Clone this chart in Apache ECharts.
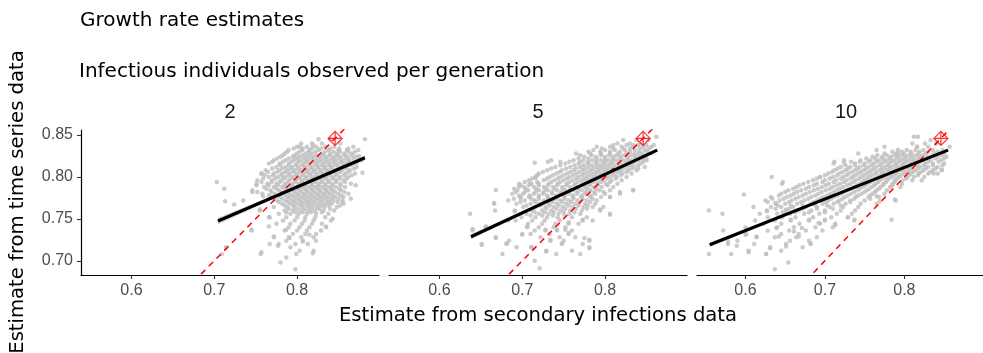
<!DOCTYPE html>
<html>
<head>
<meta charset="utf-8">
<title>Growth rate estimates</title>
<script src="https://cdn.jsdelivr.net/npm/echarts@6.0.0/dist/echarts.min.js"></script>
<style>
  html, body { margin: 0; padding: 0; background: #fff; }
  #chart { width: 983px; height: 353px; }
</style>
</head>
<body>
<div id="chart"></div>
<script>
// facet labels + ticks
const panelLabels = ["2", "5", "10"];
const xTicks = [0.6, 0.7, 0.8];
const yTicks = [0.7, 0.75, 0.8, 0.85];
const trueValue = [0.846, 0.846];
const identityLine = [[0.6, 0.6], [0.9, 0.9]];

// points, one row per y level: [y, [x, x, ...]]
const rows2 = [
  [0.845, [0.826, 0.84, 0.882]],
  [0.840, [0.805, 0.818, 0.83, 0.852]],
  [0.836, [0.80, 0.812, 0.823, 0.834, 0.845, 0.868]],
  [0.834, [0.796, 0.807, 0.818, 0.829, 0.84, 0.851, 0.862]],
  [0.832, [0.79, 0.806, 0.815, 0.826, 0.838, 0.85, 0.86, 0.874]],
  [0.830, [0.788, 0.803, 0.814, 0.822, 0.834, 0.844, 0.852, 0.862, 0.87]],
  [0.828, [0.785, 0.80, 0.81, 0.818, 0.83, 0.84, 0.848, 0.857, 0.866]],
  [0.826, [0.783, 0.797, 0.807, 0.815, 0.824, 0.832, 0.84, 0.849, 0.858, 0.867]],
  [0.824, [0.78, 0.795, 0.803, 0.812, 0.82, 0.828, 0.836, 0.845, 0.853, 0.862, 0.872]],
  [0.822, [0.776, 0.79, 0.80, 0.809, 0.817, 0.826, 0.834, 0.842, 0.85, 0.859, 0.868]],
  [0.820, [0.772, 0.786, 0.796, 0.805, 0.813, 0.822, 0.83, 0.838, 0.846, 0.855, 0.863, 0.878]],
  [0.818, [0.77, 0.783, 0.793, 0.802, 0.811, 0.819, 0.827, 0.835, 0.844, 0.853, 0.862, 0.873]],
  [0.816, [0.766, 0.779, 0.79, 0.80, 0.808, 0.816, 0.824, 0.832, 0.84, 0.849, 0.858, 0.868]],
  [0.814, [0.78, 0.79, 0.798, 0.806, 0.814, 0.822, 0.83, 0.838, 0.846, 0.855, 0.865]],
  [0.812, [0.775, 0.786, 0.794, 0.802, 0.81, 0.818, 0.826, 0.834, 0.842, 0.85, 0.86, 0.872]],
  [0.810, [0.77, 0.782, 0.792, 0.801, 0.809, 0.817, 0.825, 0.833, 0.841, 0.85, 0.859, 0.869]],
  [0.808, [0.762, 0.778, 0.788, 0.797, 0.805, 0.813, 0.821, 0.829, 0.837, 0.845, 0.854, 0.864]],
  [0.806, [0.765, 0.776, 0.786, 0.795, 0.804, 0.812, 0.82, 0.828, 0.836, 0.844, 0.852, 0.862]],
  [0.804, [0.757, 0.772, 0.782, 0.791, 0.80, 0.808, 0.816, 0.824, 0.832, 0.84, 0.848, 0.858, 0.87]],
  [0.802, [0.761, 0.771, 0.781, 0.79, 0.799, 0.807, 0.815, 0.823, 0.831, 0.839, 0.847, 0.857, 0.866]],
  [0.800, [0.766, 0.777, 0.786, 0.795, 0.803, 0.811, 0.819, 0.827, 0.835, 0.843, 0.852, 0.862]],
  [0.798, [0.759, 0.774, 0.784, 0.793, 0.802, 0.81, 0.818, 0.826, 0.834, 0.843, 0.851, 0.86]],
  [0.796, [0.752, 0.77, 0.781, 0.79, 0.798, 0.806, 0.814, 0.822, 0.83, 0.838, 0.847, 0.856]],
  [0.794, [0.757, 0.769, 0.779, 0.789, 0.798, 0.806, 0.814, 0.822, 0.83, 0.838, 0.847, 0.858]],
  [0.792, [0.751, 0.764, 0.775, 0.785, 0.794, 0.802, 0.81, 0.818, 0.826, 0.834, 0.842, 0.852, 0.865]],
  [0.790, [0.766, 0.777, 0.786, 0.794, 0.802, 0.81, 0.818, 0.826, 0.834, 0.843, 0.853]],
  [0.788, [0.76, 0.772, 0.782, 0.79, 0.798, 0.806, 0.814, 0.822, 0.83, 0.838, 0.847, 0.858]],
  [0.786, [0.763, 0.775, 0.785, 0.793, 0.801, 0.809, 0.817, 0.825, 0.833, 0.841, 0.851]],
  [0.784, [0.746, 0.768, 0.778, 0.787, 0.795, 0.803, 0.811, 0.819, 0.827, 0.835, 0.843, 0.853]],
  [0.782, [0.752, 0.769, 0.78, 0.789, 0.797, 0.805, 0.813, 0.821, 0.829, 0.837, 0.846, 0.857]],
  [0.780, [0.758, 0.773, 0.783, 0.791, 0.80, 0.808, 0.816, 0.824, 0.832, 0.84, 0.85, 0.862]],
  [0.778, [0.766, 0.777, 0.786, 0.794, 0.802, 0.81, 0.818, 0.826, 0.834, 0.843, 0.853]],
  [0.776, [0.769, 0.78, 0.789, 0.797, 0.805, 0.813, 0.821, 0.829, 0.837, 0.846, 0.856]],
  [0.774, [0.772, 0.782, 0.791, 0.80, 0.808, 0.816, 0.824, 0.832, 0.841, 0.85]],
  [0.772, [0.735, 0.776, 0.786, 0.795, 0.803, 0.811, 0.819, 0.827, 0.836, 0.844, 0.855]],
  [0.770, [0.778, 0.789, 0.797, 0.805, 0.813, 0.821, 0.83, 0.839, 0.849]],
  [0.768, [0.782, 0.792, 0.80, 0.808, 0.816, 0.825, 0.834, 0.842, 0.856]],
  [0.766, [0.785, 0.795, 0.804, 0.812, 0.82, 0.829, 0.838, 0.852]],
  [0.764, [0.772, 0.788, 0.797, 0.806, 0.815, 0.824, 0.833, 0.848]],
  [0.762, [0.79, 0.80, 0.809, 0.818, 0.827, 0.84]],
  [0.760, [0.755, 0.785, 0.795, 0.804, 0.813, 0.822, 0.832, 0.845]],
  [0.758, [0.787, 0.798, 0.807, 0.817, 0.83]],
  [0.756, [0.778, 0.792, 0.802, 0.812, 0.823, 0.838]],
  [0.752, [0.767, 0.787, 0.80, 0.81, 0.822, 0.834]],
  [0.748, [0.783, 0.797, 0.809, 0.82, 0.841]],
  [0.744, [0.775, 0.792, 0.806, 0.818, 0.83]],
  [0.740, [0.79, 0.803, 0.815, 0.835]],
  [0.736, [0.745, 0.785, 0.80, 0.812, 0.829]],
  [0.732, [0.795, 0.81, 0.823]],
  [0.728, [0.772, 0.79, 0.805, 0.82]],
  [0.724, [0.787, 0.807, 0.823]],
  [0.720, [0.767, 0.778, 0.798, 0.813]],
  [0.716, [0.714, 0.792]],
  [0.712, [0.803, 0.82]],
  [0.708, [0.709, 0.756, 0.799]],
  [0.704, [0.787]],
  [0.698, [0.78]],
  [0.690, [0.798]]
];
const extra2 = [
  [0.703, 0.794], [0.712, 0.786], [0.713, 0.771], [0.724, 0.767], [0.746, 0.782], [0.757, 0.804],
  [0.751, 0.79], [0.745, 0.737], [0.757, 0.71], [0.766, 0.752], [0.766, 0.741], [0.772, 0.729],
  [0.777, 0.718], [0.807, 0.723], [0.819, 0.709], [0.835, 0.741], [0.787, 0.737], [0.791, 0.727],
  [0.815, 0.731], [0.803, 0.836], [0.819, 0.838], [0.871, 0.817], [0.875, 0.825], [0.865, 0.774],
  [0.855, 0.77], [0.843, 0.75], [0.871, 0.79], [0.879, 0.805], [0.759, 0.777], [0.755, 0.761]
];

const rows5 = [
  [0.844, [0.822, 0.838, 0.852]],
  [0.840, [0.815, 0.83, 0.842]],
  [0.838, [0.81, 0.826, 0.84, 0.85]],
  [0.836, [0.79, 0.806, 0.82, 0.834, 0.846, 0.856]],
  [0.834, [0.796, 0.81, 0.822, 0.83, 0.842, 0.853]],
  [0.832, [0.786, 0.80, 0.812, 0.824, 0.836, 0.848]],
  [0.830, [0.78, 0.794, 0.806, 0.818, 0.83, 0.841, 0.851]],
  [0.828, [0.765, 0.782, 0.795, 0.806, 0.816, 0.826, 0.836, 0.845, 0.855]],
  [0.826, [0.77, 0.784, 0.795, 0.805, 0.814, 0.823, 0.832, 0.841, 0.85]],
  [0.824, [0.775, 0.789, 0.80, 0.81, 0.819, 0.828, 0.837, 0.846]],
  [0.822, [0.768, 0.78, 0.79, 0.80, 0.809, 0.818, 0.827, 0.836, 0.845]],
  [0.820, [0.735, 0.762, 0.774, 0.785, 0.795, 0.804, 0.813, 0.822, 0.831, 0.84, 0.85]],
  [0.818, [0.757, 0.77, 0.78, 0.79, 0.80, 0.809, 0.818, 0.827, 0.836, 0.846]],
  [0.816, [0.752, 0.768, 0.779, 0.789, 0.798, 0.807, 0.816, 0.825, 0.834, 0.843]],
  [0.814, [0.746, 0.763, 0.774, 0.784, 0.794, 0.803, 0.812, 0.821, 0.83, 0.84]],
  [0.812, [0.74, 0.758, 0.77, 0.78, 0.79, 0.799, 0.808, 0.817, 0.826, 0.835, 0.848]],
  [0.810, [0.735, 0.753, 0.765, 0.776, 0.786, 0.795, 0.804, 0.813, 0.822, 0.832]],
  [0.808, [0.73, 0.748, 0.762, 0.773, 0.783, 0.792, 0.801, 0.81, 0.819, 0.828, 0.838]],
  [0.806, [0.725, 0.745, 0.758, 0.769, 0.779, 0.789, 0.798, 0.807, 0.816, 0.826]],
  [0.804, [0.72, 0.741, 0.754, 0.765, 0.775, 0.785, 0.794, 0.803, 0.812, 0.821, 0.832]],
  [0.802, [0.718, 0.737, 0.75, 0.761, 0.772, 0.781, 0.79, 0.80, 0.809, 0.819]],
  [0.800, [0.716, 0.733, 0.746, 0.757, 0.768, 0.778, 0.787, 0.796, 0.805, 0.814, 0.826]],
  [0.798, [0.712, 0.73, 0.743, 0.754, 0.765, 0.775, 0.784, 0.793, 0.802, 0.813]],
  [0.796, [0.708, 0.726, 0.739, 0.75, 0.761, 0.771, 0.78, 0.789, 0.798, 0.808, 0.82]],
  [0.794, [0.703, 0.718, 0.735, 0.746, 0.757, 0.767, 0.776, 0.786, 0.795, 0.806]],
  [0.792, [0.696, 0.71, 0.72, 0.732, 0.743, 0.754, 0.764, 0.773, 0.782, 0.791, 0.801, 0.815]],
  [0.790, [0.698, 0.708, 0.72, 0.731, 0.742, 0.753, 0.763, 0.772, 0.781, 0.791, 0.803]],
  [0.788, [0.702, 0.714, 0.726, 0.737, 0.748, 0.758, 0.767, 0.776, 0.786, 0.796, 0.81]],
  [0.786, [0.69, 0.704, 0.717, 0.728, 0.739, 0.749, 0.758, 0.768, 0.778, 0.789]],
  [0.784, [0.668, 0.694, 0.707, 0.72, 0.731, 0.742, 0.752, 0.762, 0.772, 0.782, 0.793, 0.806, 0.834]],
  [0.782, [0.692, 0.703, 0.716, 0.726, 0.736, 0.747, 0.757, 0.767, 0.777, 0.787, 0.798]],
  [0.780, [0.688, 0.701, 0.714, 0.725, 0.736, 0.746, 0.756, 0.766, 0.776, 0.788, 0.80, 0.818]],
  [0.778, [0.696, 0.709, 0.72, 0.73, 0.741, 0.751, 0.761, 0.772, 0.783]],
  [0.776, [0.698, 0.708, 0.72, 0.731, 0.741, 0.751, 0.761, 0.771, 0.782, 0.795, 0.806]],
  [0.774, [0.69, 0.711, 0.72, 0.731, 0.741, 0.751, 0.762, 0.773, 0.785]],
  [0.772, [0.683, 0.703, 0.715, 0.726, 0.736, 0.746, 0.756, 0.767, 0.778, 0.79]],
  [0.770, [0.698, 0.716, 0.727, 0.737, 0.748, 0.759, 0.77, 0.782]],
  [0.768, [0.666, 0.693, 0.71, 0.721, 0.732, 0.742, 0.753, 0.764, 0.776, 0.788]],
  [0.766, [0.705, 0.722, 0.733, 0.744, 0.756, 0.768, 0.779]],
  [0.764, [0.701, 0.716, 0.728, 0.738, 0.749, 0.761, 0.774, 0.785, 0.798]],
  [0.762, [0.713, 0.729, 0.741, 0.752, 0.765, 0.778]],
  [0.760, [0.667, 0.691, 0.711, 0.724, 0.735, 0.746, 0.758, 0.772, 0.794]],
  [0.758, [0.715, 0.727, 0.738, 0.75, 0.763]],
  [0.756, [0.637, 0.705, 0.72, 0.732, 0.744, 0.757, 0.77, 0.806]],
  [0.754, [0.71, 0.724, 0.737, 0.751]],
  [0.752, [0.699, 0.716, 0.73, 0.743, 0.76, 0.778]],
  [0.748, [0.683, 0.692, 0.712, 0.727, 0.745, 0.773, 0.785]],
  [0.744, [0.707, 0.724, 0.74, 0.756, 0.768]],
  [0.740, [0.656, 0.706, 0.72, 0.738, 0.752]],
  [0.736, [0.64, 0.715, 0.728, 0.742, 0.76]],
  [0.732, [0.70, 0.71, 0.733, 0.756]],
  [0.728, [0.668, 0.722, 0.745, 0.764]],
  [0.724, [0.684, 0.734, 0.75, 0.781]],
  [0.720, [0.651, 0.681, 0.748, 0.773]],
  [0.716, [0.693, 0.711, 0.781]],
  [0.712, [0.729, 0.76]],
  [0.708, [0.676, 0.741, 0.77]],
  [0.700, [0.715]],
  [0.691, [0.721]]
];
const extra5 = [
  [0.64, 0.738], [0.651, 0.719], [0.656, 0.741], [0.668, 0.727], [0.666, 0.769], [0.681, 0.721],
  [0.683, 0.749], [0.691, 0.759], [0.696, 0.788], [0.698, 0.775], [0.70, 0.731], [0.706, 0.741],
  [0.711, 0.716], [0.715, 0.817], [0.729, 0.711], [0.731, 0.818], [0.728, 0.737], [0.734, 0.725],
  [0.746, 0.818], [0.742, 0.737], [0.748, 0.721], [0.752, 0.737], [0.756, 0.733], [0.775, 0.727],
  [0.781, 0.715], [0.781, 0.725], [0.756, 0.746], [0.773, 0.749], [0.794, 0.761], [0.806, 0.755],
  [0.806, 0.776], [0.818, 0.782], [0.834, 0.784], [0.84, 0.81], [0.862, 0.848], [0.859, 0.838],
  [0.834, 0.838], [0.85, 0.822], [0.711, 0.792], [0.716, 0.799]
];

const rows10 = [
  [0.848, [0.812, 0.817]],
  [0.844, [0.833]],
  [0.840, [0.81, 0.826, 0.84]],
  [0.836, [0.775, 0.816, 0.83, 0.857]],
  [0.832, [0.765, 0.792, 0.803, 0.814, 0.824, 0.836, 0.848]],
  [0.830, [0.785, 0.797, 0.808, 0.819, 0.83, 0.842]],
  [0.828, [0.742, 0.775, 0.79, 0.80, 0.809, 0.818, 0.827, 0.838, 0.85]],
  [0.826, [0.766, 0.778, 0.788, 0.797, 0.806, 0.815, 0.824, 0.835, 0.847]],
  [0.824, [0.76, 0.772, 0.783, 0.793, 0.802, 0.811, 0.82, 0.83, 0.842, 0.853]],
  [0.822, [0.752, 0.763, 0.773, 0.782, 0.791, 0.80, 0.809, 0.818, 0.828, 0.839, 0.85]],
  [0.820, [0.724, 0.745, 0.757, 0.768, 0.778, 0.787, 0.796, 0.805, 0.814, 0.823, 0.833, 0.846]],
  [0.818, [0.733, 0.744, 0.755, 0.765, 0.775, 0.784, 0.793, 0.802, 0.811, 0.82, 0.83, 0.843]],
  [0.816, [0.711, 0.738, 0.75, 0.761, 0.771, 0.781, 0.79, 0.799, 0.808, 0.817, 0.826, 0.836, 0.85]],
  [0.814, [0.726, 0.738, 0.749, 0.759, 0.769, 0.779, 0.788, 0.797, 0.806, 0.815, 0.825, 0.836, 0.848]],
  [0.812, [0.72, 0.732, 0.744, 0.755, 0.765, 0.775, 0.784, 0.793, 0.802, 0.811, 0.82, 0.83, 0.842]],
  [0.810, [0.716, 0.729, 0.741, 0.752, 0.762, 0.772, 0.781, 0.79, 0.799, 0.808, 0.817, 0.827, 0.839]],
  [0.808, [0.712, 0.726, 0.738, 0.749, 0.759, 0.769, 0.778, 0.787, 0.796, 0.805, 0.814, 0.824, 0.836, 0.847]],
  [0.806, [0.709, 0.722, 0.734, 0.745, 0.756, 0.765, 0.774, 0.783, 0.792, 0.801, 0.811, 0.821, 0.833]],
  [0.804, [0.704, 0.718, 0.73, 0.742, 0.753, 0.763, 0.772, 0.781, 0.79, 0.799, 0.808, 0.818, 0.83, 0.842]],
  [0.802, [0.70, 0.715, 0.727, 0.738, 0.749, 0.759, 0.769, 0.778, 0.787, 0.796, 0.806, 0.817]],
  [0.800, [0.633, 0.694, 0.71, 0.723, 0.735, 0.746, 0.756, 0.766, 0.775, 0.784, 0.793, 0.802, 0.812, 0.825]],
  [0.798, [0.69, 0.706, 0.72, 0.732, 0.743, 0.753, 0.763, 0.772, 0.781, 0.791, 0.803]],
  [0.796, [0.685, 0.70, 0.714, 0.727, 0.739, 0.75, 0.76, 0.769, 0.778, 0.788, 0.798, 0.81, 0.822]],
  [0.794, [0.679, 0.697, 0.711, 0.724, 0.736, 0.747, 0.757, 0.767, 0.777, 0.788]],
  [0.792, [0.646, 0.673, 0.69, 0.705, 0.719, 0.732, 0.744, 0.754, 0.764, 0.774, 0.785, 0.797]],
  [0.790, [0.668, 0.686, 0.701, 0.715, 0.728, 0.74, 0.751, 0.762, 0.773, 0.785]],
  [0.788, [0.664, 0.68, 0.696, 0.71, 0.723, 0.736, 0.748, 0.759, 0.77, 0.782, 0.795]],
  [0.786, [0.66, 0.676, 0.691, 0.706, 0.719, 0.732, 0.744, 0.756, 0.768]],
  [0.784, [0.654, 0.67, 0.686, 0.701, 0.715, 0.728, 0.741, 0.753, 0.765, 0.778]],
  [0.782, [0.65, 0.665, 0.681, 0.696, 0.711, 0.724, 0.737, 0.75, 0.763]],
  [0.780, [0.645, 0.661, 0.676, 0.692, 0.707, 0.72, 0.733, 0.746, 0.76, 0.775]],
  [0.778, [0.642, 0.657, 0.672, 0.688, 0.703, 0.716, 0.729, 0.742, 0.757]],
  [0.776, [0.632, 0.652, 0.667, 0.683, 0.698, 0.712, 0.725, 0.739, 0.755, 0.768]],
  [0.774, [0.634, 0.648, 0.663, 0.679, 0.694, 0.708, 0.722, 0.737]],
  [0.772, [0.625, 0.643, 0.658, 0.674, 0.69, 0.704, 0.718, 0.732, 0.75, 0.789]],
  [0.770, [0.628, 0.655, 0.67, 0.686, 0.701, 0.716, 0.732]],
  [0.768, [0.638, 0.65, 0.665, 0.682, 0.697, 0.711, 0.726, 0.745, 0.765]],
  [0.766, [0.641, 0.657, 0.672, 0.688, 0.703, 0.72]],
  [0.764, [0.61, 0.632, 0.645, 0.66, 0.676, 0.69, 0.706, 0.723, 0.742]],
  [0.762, [0.638, 0.655, 0.672, 0.69, 0.71]],
  [0.760, [0.554, 0.627, 0.651, 0.667, 0.683, 0.70, 0.72, 0.738]],
  [0.758, [0.647, 0.663, 0.68, 0.70]],
  [0.756, [0.571, 0.618, 0.64, 0.656, 0.674, 0.693, 0.715, 0.734]],
  [0.752, [0.628, 0.646, 0.663, 0.685, 0.708, 0.729]],
  [0.748, [0.612, 0.637, 0.657, 0.68, 0.70, 0.737]],
  [0.744, [0.623, 0.645, 0.668, 0.694, 0.713]],
  [0.740, [0.60, 0.64, 0.661, 0.688, 0.71]],
  [0.736, [0.572, 0.628, 0.655, 0.676, 0.697]],
  [0.732, [0.601, 0.645, 0.667]],
  [0.728, [0.614, 0.637, 0.664, 0.69]],
  [0.724, [0.59, 0.656, 0.68]],
  [0.720, [0.578, 0.611, 0.651, 0.682]],
  [0.716, [0.631, 0.672]],
  [0.712, [0.604, 0.645]],
  [0.708, [0.554, 0.582, 0.626]],
  [0.698, [0.654]],
  [0.690, [0.637]]
];
const extra10 = [
  [0.578, 0.723], [0.589, 0.718], [0.598, 0.779], [0.60, 0.731], [0.604, 0.71], [0.614, 0.729],
  [0.626, 0.708], [0.627, 0.759], [0.631, 0.715], [0.638, 0.769], [0.639, 0.739], [0.642, 0.729],
  [0.647, 0.794], [0.651, 0.761], [0.651, 0.717], [0.657, 0.749], [0.661, 0.735], [0.667, 0.729],
  [0.671, 0.739], [0.682, 0.721], [0.68, 0.749], [0.694, 0.80], [0.692, 0.745], [0.70, 0.749],
  [0.712, 0.818], [0.713, 0.743], [0.724, 0.817], [0.729, 0.752], [0.737, 0.749], [0.757, 0.774],
  [0.765, 0.777], [0.769, 0.771], [0.784, 0.749], [0.788, 0.773], [0.792, 0.828], [0.816, 0.836],
  [0.847, 0.809], [0.837, 0.804]
];

// fitted lines [x, y] and their ribbons [x, lower, upper]
const fit2 = [[0.7045, 0.7474], [0.882, 0.823]];
const band2 = [[0.7045, 0.7434, 0.7514], [0.79, 0.7826, 0.7850], [0.882, 0.8205, 0.8255]];
const fit5 = [[0.638, 0.7287], [0.863, 0.832]];
const band5 = [[0.638, 0.7257, 0.7317], [0.76, 0.7837, 0.7857], [0.863, 0.8305, 0.8335]];
const fit10 = [[0.555, 0.719], [0.855, 0.832]];
const band10 = [[0.555, 0.7165, 0.7215], [0.75, 0.7917, 0.7933], [0.855, 0.8305, 0.8335]];

const panels = [
  { rows: rows2, extra: extra2, fit: fit2, band: band2 },
  { rows: rows5, extra: extra5, fit: fit5, band: band5 },
  { rows: rows10, extra: extra10, fit: fit10, band: band10 }
];

const LEFT = 81, TOP = 130, W = 298, H = 145, GAP = 10;
const titleFont = '20px "DejaVu Sans"';
const axisTitleFont = '19.6px "DejaVu Sans"';
const tickFont = "Liberation Sans";

function expand(rows, extra) {
  const pts = [];
  rows.forEach(([y, xs]) => xs.forEach((x) => pts.push([x, y])));
  return pts.concat(extra);
}

const chart = echarts.init(document.getElementById("chart"));

const grid = [], xAxis = [], yAxis = [], series = [], graphic = [];

panels.forEach((p, i) => {
  const left = LEFT + i * (W + GAP);
  grid.push({ left: left, top: TOP, width: W, height: H });
  xAxis.push({
    gridIndex: i,
    type: "value",
    min: 0.539,
    max: 0.899,
    axisLine: { show: true, lineStyle: { color: "#000", width: 1.2 } },
    axisTick: { show: true, length: 4, customValues: xTicks, lineStyle: { color: "#333", width: 1.1 } },
    axisLabel: {
      customValues: xTicks,
      formatter: (v) => v.toFixed(1),
      color: "#4D4D4D",
      fontSize: 16,
      fontFamily: tickFont,
      margin: 8
    },
    splitLine: { show: false }
  });
  yAxis.push({
    gridIndex: i,
    type: "value",
    min: 0.683,
    max: 0.856,
    axisLine: { show: i === 0, lineStyle: { color: "#000", width: 1.2 } },
    axisTick: { show: i === 0, length: 4, customValues: yTicks, lineStyle: { color: "#333", width: 1.1 } },
    axisLabel: {
      show: i === 0,
      customValues: yTicks,
      formatter: (v) => v.toFixed(2),
      color: "#4D4D4D",
      fontSize: 16,
      fontFamily: tickFont,
      margin: 8
    },
    splitLine: { show: false }
  });

  series.push({
    type: "scatter",
    xAxisIndex: i,
    yAxisIndex: i,
    symbolSize: 4.5,
    itemStyle: { color: "#BEBEBE" },
    data: expand(p.rows, p.extra),
    z: 1
  });
  // confidence ribbon
  series.push({
    type: "custom",
    xAxisIndex: i,
    yAxisIndex: i,
    data: [0],
    z: 2,
    renderItem: (params, api) => {
      const upper = p.band.map((b) => api.coord([b[0], b[2]]));
      const lower = p.band.slice().reverse().map((b) => api.coord([b[0], b[1]]));
      return {
        type: "polygon",
        shape: { points: upper.concat(lower) },
        style: { fill: "rgba(153,153,153,0.4)" }
      };
    }
  });
  series.push({
    type: "line",
    xAxisIndex: i,
    yAxisIndex: i,
    data: identityLine,
    showSymbol: false,
    clip: true,
    lineStyle: { color: "#FF0000", width: 1.5, type: [6, 5] },
    z: 3
  });
  series.push({
    type: "line",
    xAxisIndex: i,
    yAxisIndex: i,
    data: p.fit,
    showSymbol: false,
    lineStyle: { color: "#000", width: 3.2 },
    z: 4
  });
  series.push({
    type: "scatter",
    xAxisIndex: i,
    yAxisIndex: i,
    symbol: "path://M10,0L20,10L10,20L0,10Z M10,0L10,20 M0,10L20,10",
    symbolSize: 14,
    itemStyle: { color: "rgba(0,0,0,0)", borderColor: "#FF0000", borderWidth: 1.2 },
    data: [trueValue],
    z: 5
  });

  graphic.push({
    type: "text",
    x: left + W / 2,
    y: 112,
    style: {
      text: panelLabels[i],
      font: '20px "Liberation Sans"',
      fill: "#1A1A1A",
      align: "center",
      verticalAlign: "middle"
    }
  });
});

graphic.push(
  { type: "text", x: 80, y: 20.5, style: { text: "Growth rate estimates", font: titleFont, fill: "#000", align: "left", verticalAlign: "middle" } },
  { type: "text", x: 79, y: 72, style: { text: "Infectious individuals observed per generation", font: titleFont, fill: "#000", align: "left", verticalAlign: "middle" } },
  { type: "text", x: 538, y: 315.5, style: { text: "Estimate from secondary infections data", font: axisTitleFont, fill: "#000", align: "center", verticalAlign: "middle" } },
  { type: "text", x: 17.5, y: 202, rotation: Math.PI / 2, style: { text: "Estimate from time series data", font: axisTitleFont, fill: "#000", align: "center", verticalAlign: "middle" } }
);

chart.setOption({
  animation: false,
  backgroundColor: "#fff",
  grid: grid,
  xAxis: xAxis,
  yAxis: yAxis,
  series: series,
  graphic: graphic
});
</script>
</body>
</html>
